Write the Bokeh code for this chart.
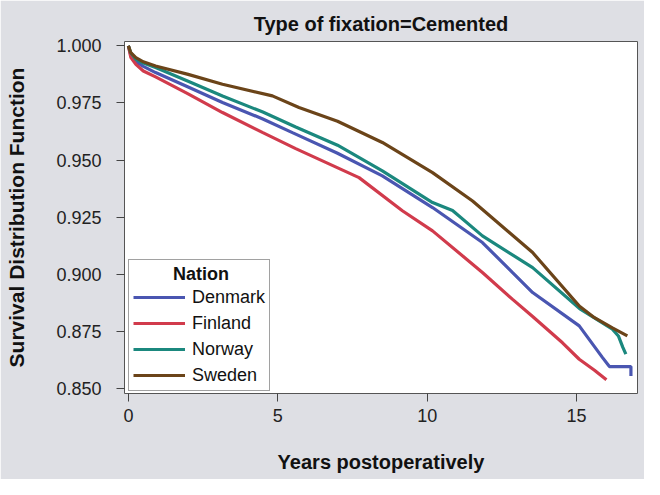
from bokeh.plotting import figure
from bokeh.models import FixedTicker, Legend, LegendItem, NumeralTickFormatter, Range1d
from bokeh.embed import file_html
from bokeh.resources import INLINE

# ---- data ----
nations = ["Denmark", "Finland", "Norway", "Sweden"]
colors = ["#4a56b1", "#d13b4c", "#1b887e", "#6b4419"]

t_denmark = [0, 0.08, 0.25, 0.5, 0.91, 2.0, 3.15, 4.5, 5.49, 7.0, 8.5, 10.18, 11.85, 12.86, 13.53, 15.09, 15.87, 16.1, 16.82, 16.82]
s_denmark = [1.000, 0.996, 0.9931, 0.991, 0.9883, 0.982, 0.9752, 0.968, 0.962, 0.953, 0.9431, 0.9292, 0.9139, 0.9007, 0.892, 0.8774, 0.8635, 0.8596, 0.8596, 0.8555]

t_finland = [0, 0.08, 0.25, 0.5, 0.91, 2.0, 3.15, 4.5, 5.6, 7.72, 9.17, 10.18, 11.85, 12.86, 13.53, 14.53, 15.09, 15.6, 16.0]
s_finland = [1.000, 0.995, 0.9919, 0.989, 0.9864, 0.979, 0.9708, 0.962, 0.955, 0.9423, 0.9278, 0.919, 0.9008, 0.889, 0.8815, 0.870, 0.8628, 0.858, 0.8538]

t_norway = [0, 0.08, 0.25, 0.5, 0.91, 2.0, 3.15, 4.5, 5.6, 7.0, 8.5, 10.18, 10.85, 11.85, 13.53, 15.1, 16.2, 16.4, 16.55, 16.65]
s_norway = [1.000, 0.997, 0.9941, 0.9925, 0.9905, 0.9845, 0.978, 0.971, 0.9645, 0.9565, 0.9453, 0.9314, 0.9279, 0.9168, 0.9029, 0.885, 0.876, 0.873, 0.868, 0.865]

t_sweden = [0, 0.08, 0.25, 0.5, 0.91, 2.0, 3.15, 4.82, 5.71, 7.0, 8.5, 10.18, 11.52, 13.53, 15.1, 15.6, 16.2, 16.7]
s_sweden = [1.000, 0.997, 0.9948, 0.993, 0.9912, 0.9875, 0.9832, 0.9781, 0.973, 0.967, 0.9577, 0.9445, 0.9321, 0.9095, 0.886, 0.881, 0.8765, 0.873]

x_ticks = [0, 5, 10, 15]
y_ticks = [0.850, 0.875, 0.900, 0.925, 0.950, 0.975, 1.000]

series = [(t_denmark, s_denmark), (t_finland, s_finland), (t_norway, s_norway), (t_sweden, s_sweden)]

FONT = "Liberation Sans"
BG = "#dedfe4"

p = figure(width=644, height=479, output_backend="svg", toolbar_location=None,
           x_range=Range1d(-0.13, 17.04), y_range=Range1d(0.8478, 1.0019),
           min_border_left=124, min_border_right=7, min_border_top=41, min_border_bottom=86,
           title="Type of fixation=Cemented")

p.background_fill_color = "white"
p.border_fill_color = BG
p.outline_line_color = "#555555"
p.outline_line_width = 1
p.grid.visible = False

p.title.align = "center"
p.title.vertical_align = "top"
p.title.text_font = FONT
p.title.text_font_size = "20px"
p.title.text_font_style = "bold"
p.title.text_color = "#111111"
p.title.standoff = 10

for ax in (p.xaxis[0], p.yaxis[0]):
    ax.axis_line_color = None
    ax.major_tick_out = 8
    ax.major_tick_in = 0
    ax.minor_tick_line_color = None
    ax.major_tick_line_color = "#444444"
    ax.major_label_text_font = FONT
    ax.major_label_text_font_size = "18px"
    ax.major_label_text_color = "#222222"
    ax.axis_label_text_font = FONT
    ax.axis_label_text_font_style = "bold"
    ax.axis_label_text_color = "#111111"

p.xaxis.axis_label_text_font_size = "20px"
p.yaxis.axis_label_text_font_size = "21px"
p.xaxis.ticker = FixedTicker(ticks=x_ticks)
p.yaxis.ticker = FixedTicker(ticks=y_ticks)
p.yaxis.formatter = NumeralTickFormatter(format="0.000")
p.xaxis.axis_label = "Years postoperatively"
p.yaxis.axis_label = "Survival Distribution Function"
p.xaxis.major_label_standoff = 7
p.yaxis.major_label_standoff = 15
p.xaxis.axis_label_standoff = 26
p.yaxis.axis_label_standoff = 25

items = []
for name, col, (t, s) in zip(nations, colors, series):
    r = p.line(t, s, line_color=col, line_width=3.2)
    items.append(LegendItem(label=name, renderers=[r]))

legend = Legend(items=items, location=(4, 2), title="\u00a0" * 8 + "Nation",
                title_text_font=FONT, title_text_font_size="18px", title_text_font_style="bold",
                title_text_color="#111111", title_standoff=1,
                label_text_font=FONT, label_text_font_size="18px", label_text_color="#111111",
                glyph_width=52, glyph_height=22, label_height=22, spacing=4,
                label_standoff=7, padding=4, margin=0,
                border_line_color="#444444", border_line_width=1,
                background_fill_color="white", background_fill_alpha=1.0)
p.add_layout(legend, "center")

open("out.html", "w").write(file_html(p, INLINE))
